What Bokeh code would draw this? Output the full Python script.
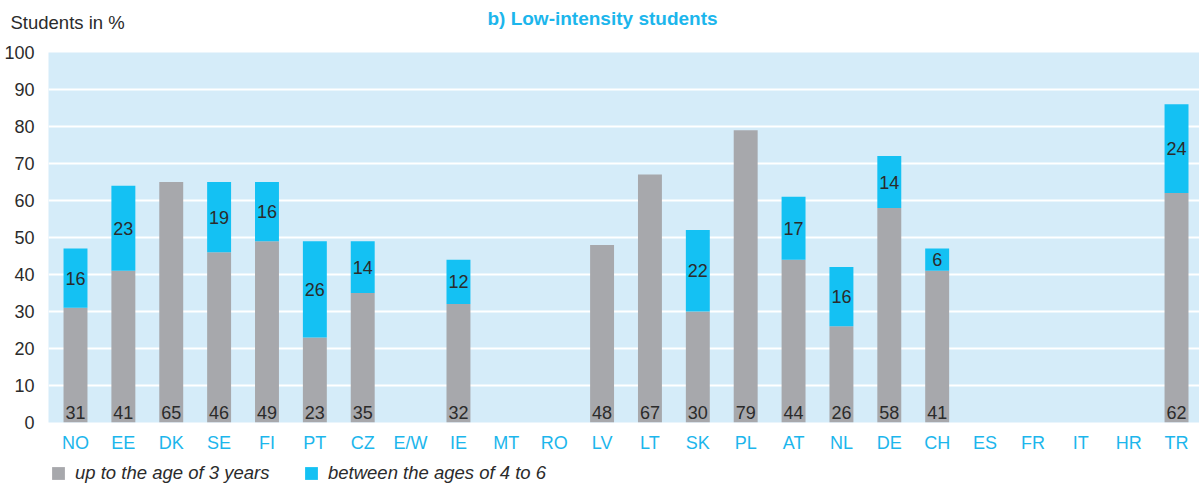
from bokeh.plotting import figure
from bokeh.layouts import column
from bokeh.models import Range1d, FixedTicker, Legend, LegendItem, Label, ColumnDataSource
from bokeh.core.properties import value
from bokeh.embed import file_html
from bokeh.resources import INLINE
import math

categories = ["NO", "EE", "DK", "SE", "FI", "PT", "CZ", "E/W", "IE", "MT", "RO", "LV",
              "LT", "SK", "PL", "AT", "NL", "DE", "CH", "ES", "FR", "IT", "HR", "TR"]
nan = float("nan")
up_to_3 = [31, 41, 65, 46, 49, 23, 35, nan, 32, nan, nan, 48,
           67, 30, 79, 44, 26, 58, 41, nan, nan, nan, nan, 62]
ages_4_6 = [16, 23, nan, 19, 16, 26, 14, nan, 12, nan, nan, nan,
            nan, 22, nan, 17, 16, 14, 6, nan, nan, nan, nan, 24]
y_ticks = [0, 10, 20, 30, 40, 50, 60, 70, 80, 90, 100]
grid_ticks = [10, 20, 30, 40, 50, 60, 70, 80, 90]
series_names = ["up to the age of 3 years", "between the ages of 4 to 6"]
title_text = "b) Low-intensity students"
y_title = "Students in %"

FONT = "Liberation Sans"
FS = "18px"
GREY = "#a7a8ac"
BLUE = "#14c1f3"
TXT_BLUE = "#1cb6ec"
DARK = "#2b2b2b"
W = 1199

xs = list(range(len(categories)))
g = [0 if math.isnan(v) else v for v in up_to_3]
b = [0 if math.isnan(v) else v for v in ages_4_6]
gi = [i for i, v in enumerate(up_to_3) if not math.isnan(v)]
bi = [i for i, v in enumerate(ages_4_6) if not math.isnan(v)]
src_g = ColumnDataSource(dict(x=[xs[i] for i in gi], top=[g[i] for i in gi],
                              lab=[str(int(g[i])) for i in gi]))
src_b = ColumnDataSource(dict(x=[xs[i] for i in bi], bottom=[g[i] for i in bi],
                              top=[g[i] + b[i] for i in bi],
                              mid=[g[i] + b[i] / 2 for i in bi],
                              lab=[str(int(b[i])) for i in bi]))


def bare(fig):
    fig.xaxis.visible = False
    fig.yaxis.visible = False
    fig.grid.visible = False
    fig.outline_line_color = None
    fig.frame_align = False
    return fig


# header with the two texts
head = bare(figure(width=W, height=40, output_backend="svg", toolbar_location=None,
                   x_range=Range1d(0, W), y_range=Range1d(0, 40),
                   min_border_left=0, min_border_right=0, min_border_top=0, min_border_bottom=0))
head.add_layout(Label(x=10, y=18, text=y_title, text_align="left", text_baseline="middle",
                      text_font=FONT, text_font_size="18.5px", text_color=DARK))
head.add_layout(Label(x=602, y=22, text=title_text, text_align="center", text_baseline="middle",
                      text_font=FONT, text_font_size="19px", text_font_style="bold", text_color=TXT_BLUE))

# main chart
p = figure(width=W, height=415, output_backend="svg", toolbar_location=None,
           x_range=Range1d(-0.564, 23.48), y_range=Range1d(0, 100),
           min_border_left=48, min_border_right=0, min_border_top=12, min_border_bottom=33)
p.frame_align = False
p.background_fill_color = "#d5ecf9"
p.outline_line_color = None

p.vbar(x="x", top="top", bottom=0, width=0.5, source=src_g, fill_color=GREY, line_color=None)
p.vbar(x="x", top="top", bottom="bottom", width=0.5, source=src_b, fill_color=BLUE, line_color=None)

p.text(x="x", y=1, text="lab", source=src_g, text_align="center", text_baseline="bottom",
       text_font=value(FONT), text_font_size=FS, text_color=DARK)
p.text(x="x", y="mid", text="lab", source=src_b, text_align="center", text_baseline="middle",
       text_font=value(FONT), text_font_size=FS, text_color=DARK)

p.xgrid.grid_line_color = None
p.ygrid.grid_line_color = "white"
p.ygrid.grid_line_width = 2
p.ygrid.ticker = FixedTicker(ticks=grid_ticks)

p.yaxis.ticker = FixedTicker(ticks=y_ticks)
p.yaxis.axis_line_color = None
p.yaxis.major_tick_line_color = None
p.yaxis.minor_tick_line_color = None
p.yaxis.major_label_standoff = 8
p.yaxis.major_label_text_font = FONT
p.yaxis.major_label_text_font_size = FS
p.yaxis.major_label_text_color = DARK

p.xaxis.ticker = FixedTicker(ticks=xs)
p.xaxis.major_label_overrides = {i: c for i, c in enumerate(categories)}
p.xaxis.axis_line_color = None
p.xaxis.major_tick_line_color = None
p.xaxis.minor_tick_line_color = None
p.xaxis.major_label_standoff = 4
p.xaxis.major_label_text_font = FONT
p.xaxis.major_label_text_font_size = FS
p.xaxis.major_label_text_color = TXT_BLUE

# footer with the legend (zero-height proxies of the two series, kept out of view)
foot = bare(figure(width=W, height=33, output_backend="svg", toolbar_location=None,
                   x_range=Range1d(100, 100 + W), y_range=Range1d(200, 233),
                   min_border_left=0, min_border_right=0, min_border_top=0, min_border_bottom=0))
pg = foot.vbar(x="x", top="top", bottom="top", width=0.5, source=src_g, fill_color=GREY, line_color=None)
pb = foot.vbar(x="x", top="top", bottom="top", width=0.5, source=src_b, fill_color=BLUE, line_color=None)
for name, r, xloc in [(series_names[0], pg, 50), (series_names[1], pb, 303)]:
    lg = Legend(items=[LegendItem(label=name, renderers=[r])], location=(xloc, 4),
                glyph_width=16, glyph_height=16, label_height=16, label_standoff=9,
                padding=0, margin=0, border_line_color=None, background_fill_alpha=0,
                label_text_font=FONT, label_text_font_size="18.5px", label_text_font_style="italic",
                label_text_color=DARK, label_text_baseline="middle")
    foot.add_layout(lg, "center")

layout = column(head, p, foot, spacing=0)
open("out.html", "w").write(file_html(layout, INLINE))
